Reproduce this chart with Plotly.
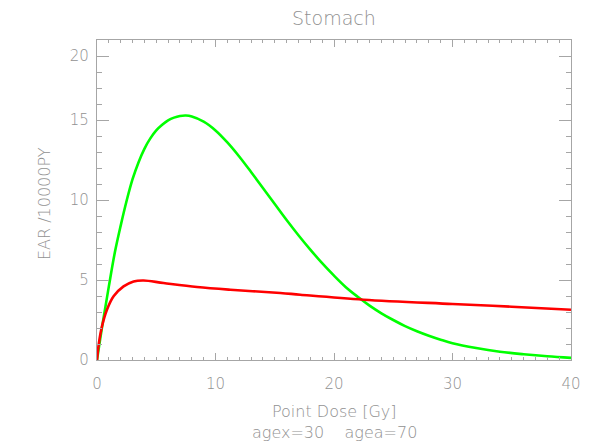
import plotly.graph_objects as go

# Data
green_x = [0, 0.5, 1.0, 1.5, 2.0, 2.5, 3.0, 3.5, 4.0, 4.5, 5.0, 5.5, 6.0, 6.5, 7.0, 7.5, 8.0,
           9.0, 10.0, 11.0, 12.0, 13.0, 14.0, 15.0, 16.0, 17.0, 18.0, 19.0, 20.0, 21.0,
           22.0, 23.0, 24.0, 25.0, 26.0, 27.0, 28.0, 29.0, 30.0, 32.0, 34.0, 36.0, 38.0, 40.0]
green_y = [0, 2.4, 4.6, 6.7, 8.4, 9.95, 11.3, 12.35, 13.2, 13.85, 14.35, 14.7, 14.98, 15.15, 15.25,
           15.28, 15.22, 14.9, 14.35, 13.6, 12.72, 11.75, 10.75, 9.75, 8.75, 7.8, 6.9, 6.05,
           5.27, 4.55, 3.95, 3.4, 2.92, 2.5, 2.12, 1.8, 1.52, 1.27, 1.05, 0.75, 0.52, 0.36,
           0.23, 0.13]

red_x = [0, 0.15, 0.42, 0.84, 1.4, 2.24, 3.09, 3.93, 5.62, 8.44, 11.25, 15.47, 17.16,
         22.5, 30.0, 35.0, 40.0]
red_y = [0, 1.0, 2.1, 3.14, 3.98, 4.6, 4.91, 4.97, 4.81, 4.56, 4.39, 4.19, 4.08,
         3.77, 3.5, 3.33, 3.14]

x_tickvals = [0, 10, 20, 30, 40]
x_ticktext = ["0", "10", "20", "30", "40"]
y_tickvals = [0, 5, 10, 15, 19]
y_ticktext = ["0", "5", "10", "15", "20"]

title_text = "Stomach"
x_title = "Point Dose [Gy]"
sub_title = "agex=30    agea=70"
y_title = "EAR /10000PY"

AX = "#a6a6a6"
TX = "#919191"
FONT = "DejaVu Sans"

fig = go.Figure()
fig.add_trace(go.Scatter(x=green_x, y=green_y, mode="lines",
                         line=dict(color="#00ff00", width=2.6, shape="spline", smoothing=1.0)))
fig.add_trace(go.Scatter(x=red_x, y=red_y, mode="lines",
                         line=dict(color="#ff0000", width=2.6, shape="spline", smoothing=1.0)))

# The page adds an 8px body margin, so the figure is 8px smaller and shifted.
fig.update_layout(
    width=592, height=435,
    margin=dict(l=89, r=29, t=32, b=83),
    paper_bgcolor="white", plot_bgcolor="white",
    showlegend=False,
    font=dict(family=FONT, color=TX, size=15, weight=200),
    xaxis=dict(range=[0, 40], showgrid=False, zeroline=False,
               showline=True, linecolor=AX, linewidth=1.2, mirror="ticks",
               ticks="inside", ticklen=7, tickcolor=AX, tickwidth=1,
               tickvals=x_tickvals, ticktext=x_ticktext, ticklabelstandoff=10,
               minor=dict(ticks="inside", ticklen=3, dtick=1, tickcolor=AX, tickwidth=1)),
    yaxis=dict(range=[0, 20], showgrid=False, zeroline=False,
               showline=True, linecolor=AX, linewidth=1.2, mirror="ticks",
               ticks="inside", ticklen=12, tickcolor=AX, tickwidth=1,
               tickvals=y_tickvals, ticktext=y_ticktext, ticklabelstandoff=4,
               minor=dict(ticks="inside", ticklen=5, dtick=1, tickcolor=AX, tickwidth=1)),
    annotations=[
        dict(text=title_text, x=0.5, y=1.069, xref="paper", yref="paper",
             showarrow=False, xanchor="center", yanchor="middle",
             font=dict(size=19, color=TX, family=FONT, weight=200)),
        dict(text=x_title, x=0.5, y=-0.162, xref="paper", yref="paper",
             showarrow=False, xanchor="center", yanchor="middle",
             font=dict(size=16, color=TX, family=FONT, weight=200)),
        dict(text=sub_title, x=0.5, y=-0.227, xref="paper", yref="paper",
             showarrow=False, xanchor="center", yanchor="middle",
             font=dict(size=16, color=TX, family=FONT, weight=200)),
        dict(text=y_title, x=-0.112, y=0.49, xref="paper", yref="paper",
             showarrow=False, xanchor="center", yanchor="middle", textangle=-90,
             font=dict(size=16, color=TX, family=FONT, weight=200)),
    ],
)

fig.write_html("out.html")
